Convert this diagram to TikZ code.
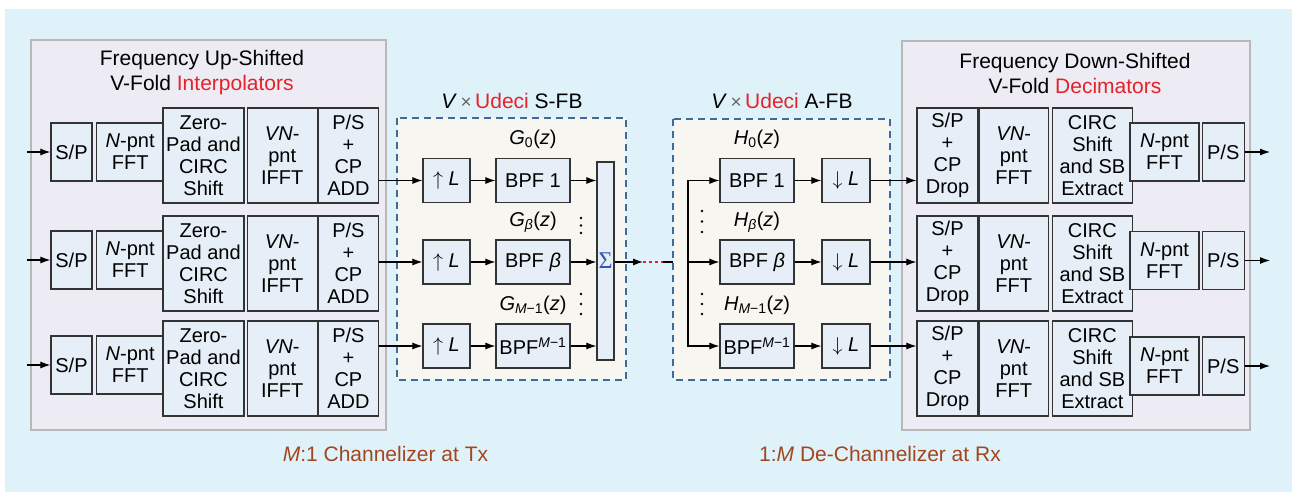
\RequirePackage{fix-cm}
\documentclass[tikz,border=0pt]{standalone}
\usepackage{fontspec}
\setmainfont{Liberation Sans}
\newfontfamily\sumfont{Liberation Serif}
\usetikzlibrary{positioning, arrows.meta, calc}
\usepackage{xcolor}
\definecolor{bgblue}{HTML}{DFF2FA}
\definecolor{panelgray}{HTML}{EDEBF4}
\definecolor{boxblue}{HTML}{E6EEF7}
\definecolor{fbfill}{HTML}{F7F6F1}
\definecolor{fbblue}{HTML}{3E6C98}
\definecolor{hired}{HTML}{E5222A}
\definecolor{capbrown}{HTML}{A2461E}
\definecolor{sigblue}{HTML}{3657B8}
\newcommand{\timessign}{{\color{black!60}\fontsize{19}{19}\selectfont×}}

\begin{document}
\begin{tikzpicture}[
    x=1pt, y=-1pt,
    >={Latex[length=10pt,width=7pt]},
    line width=1.1pt,
    blk/.style={draw=black!80, fill=boxblue, line width=1.2pt, align=center,
                inner sep=0pt, font=\fontsize{20}{22}\selectfont},
    smallblk/.style={blk, minimum height=58pt},
    tallblk/.style={blk, minimum height=95pt},
    fbblk/.style={blk, minimum height=44pt},
    panel/.style={draw=black!28, fill=panelgray, line width=1.6pt},
    fbank/.style={draw=fbblue, fill=fbfill, line width=1.6pt, dash pattern=on 7pt off 5pt},
    heading/.style={align=center, inner sep=0pt, font=\fontsize{21}{25}\selectfont},
    tfn/.style={inner sep=0pt, font=\fontsize{20}{22}\selectfont},
    capt/.style={inner sep=0pt, text=capbrown, font=\fontsize{21}{24}\selectfont}
]
\path[use as bounding box] (0,0) rectangle (1297,492);
\fill[bgblue] (5,9) rectangle (1292,492);

% transmitter side
\draw[panel] (31,40) rectangle (386,430);
\node[heading] (uptitle) at (202,73) {Frequency Up-Shifted\\V-Fold \textcolor{hired}{Interpolators}};

\node[smallblk, minimum width=41pt] (sp1) at (71.5,152) {S/P};
\node[smallblk, minimum width=68pt, right=3pt of sp1] (nfft1) {\textit{N}-pnt\\FFT};
\node[tallblk, minimum width=81pt] (zp1) at (203.5,155.5) {Zero-\\Pad and\\CIRC\\Shift};
\node[tallblk, minimum width=70pt, right=2pt of zp1] (ifft1) {\textit{VN}-\\pnt\\IFFT};
\node[tallblk, minimum width=60pt, right=0pt of ifft1] (cpadd1) {P/S\\+\\CP\\ADD};

\node[smallblk, minimum width=41pt] (sp2) at (71.5,260) {S/P};
\node[smallblk, minimum width=68pt, right=3pt of sp2] (nfft2) {\textit{N}-pnt\\FFT};
\node[tallblk, minimum width=81pt] (zp2) at (203.5,263.5) {Zero-\\Pad and\\CIRC\\Shift};
\node[tallblk, minimum width=70pt, right=2pt of zp2] (ifft2) {\textit{VN}-\\pnt\\IFFT};
\node[tallblk, minimum width=60pt, right=0pt of ifft2] (cpadd2) {P/S\\+\\CP\\ADD};

\node[smallblk, minimum width=41pt] (sp3) at (71.5,365) {S/P};
\node[smallblk, minimum width=68pt, right=3pt of sp3] (nfft3) {\textit{N}-pnt\\FFT};
\node[tallblk, minimum width=81pt] (zp3) at (203.5,368.5) {Zero-\\Pad and\\CIRC\\Shift};
\node[tallblk, minimum width=70pt, right=2pt of zp3] (ifft3) {\textit{VN}-\\pnt\\IFFT};
\node[tallblk, minimum width=60pt, right=0pt of ifft3] (cpadd3) {P/S\\+\\CP\\ADD};

\coordinate (in1) at (27,152);
\coordinate (in2) at (27,260);
\coordinate (in3) at (27,365);
\draw[->] (in1) -- (sp1);
\draw[->] (in2) -- (sp2);
\draw[->] (in3) -- (sp3);

% synthesis filter bank
\draw[fbank] (397,118) rectangle (626,380);
\node[heading] (sfbtitle) at (512,101) {\textit{V}\,\timessign\,\textcolor{hired}{Udeci} S-FB};

\node[fbblk, minimum width=47pt] (up1) at (446.5,180.5) {$\uparrow$\;\textit{L}};
\node[fbblk, minimum width=47pt] (up2) at (446.5,262) {$\uparrow$\;\textit{L}};
\node[fbblk, minimum width=47pt] (up3) at (446.5,346) {$\uparrow$\;\textit{L}};
\node[fbblk, minimum width=74pt] (gbpf1) at (533,180.5) {BPF 1};
\node[fbblk, minimum width=74pt] (gbpf2) at (533,262) {BPF \textit{β}};
\node[fbblk, minimum width=74pt] (gbpf3) at (533,346) {BPF\textsuperscript{\textit{M}−1}};
\node[blk, minimum width=17pt, minimum height=198pt] (sum) at (605.5,261) {\sumfont\fontsize{24}{24}\selectfont\color{sigblue}Σ};

\node[tfn] (g0) at (533,139) {\textit{G}\textsubscript{0}(\textit{z})};
\node[tfn] (gb) at (533,222) {\textit{G}\textsubscript{\textit{β}}(\textit{z})};
\node[tfn] (gm) at (533,305) {\textit{G}\textsubscript{\textit{M}−1}(\textit{z})};
\fill (581,218) circle (1.3) (581,225.5) circle (1.3) (581,233) circle (1.3);
\fill (581,294) circle (1.3) (581,304) circle (1.3) (581,314) circle (1.3);

\draw[->] (cpadd1.east |- up1) -- (up1);
\draw[->] (cpadd2.east |- up2) -- (up2);
\draw[->] (cpadd3.east |- up3) -- (up3);
\draw[->] (up1) -- (gbpf1);
\draw[->] (up2) -- (gbpf2);
\draw[->] (up3) -- (gbpf3);
\draw[->] (gbpf1) -- (gbpf1 -| sum.west);
\draw[->] (gbpf2) -- (gbpf2 -| sum.west);
\draw[->] (gbpf3) -- (gbpf3 -| sum.west);

% link between the banks
\coordinate (linkl) at (643,262);
\coordinate (linkr) at (663,262);
\coordinate (busin) at (688,262);
\draw[->] (sum.east |- linkl) -- (linkl);
\draw[hired, line width=1.4pt, dash pattern=on 3pt off 3pt] (linkl) -- (linkr);
\draw[->] (linkr) -- (busin);

% analysis filter bank
\draw[fbank] (673,119) rectangle (890,380);
\node[heading] (afbtitle) at (782,101) {\textit{V}\,\timessign\,\textcolor{hired}{Udeci} A-FB};

\node[fbblk, minimum width=74pt] (hbpf1) at (757,180.5) {BPF 1};
\node[fbblk, minimum width=74pt] (hbpf2) at (757,262) {BPF \textit{β}};
\node[fbblk, minimum width=74pt] (hbpf3) at (757,346) {BPF\textsuperscript{\textit{M}−1}};
\node[fbblk, minimum width=48pt] (down1) at (846,180.5) {$\downarrow$\;\textit{L}};
\node[fbblk, minimum width=48pt] (down2) at (846,262) {$\downarrow$\;\textit{L}};
\node[fbblk, minimum width=48pt] (down3) at (846,346) {$\downarrow$\;\textit{L}};

\node[tfn] (h0) at (757,139.5) {\textit{H}\textsubscript{0}(\textit{z})};
\node[tfn] (hb) at (757,222) {\textit{H}\textsubscript{\textit{β}}(\textit{z})};
\node[tfn] (hm) at (757,305) {\textit{H}\textsubscript{\textit{M}−1}(\textit{z})};
\fill (702,211) circle (1.3) (702,221.5) circle (1.3) (702,232) circle (1.3);
\fill (702,294) circle (1.3) (702,304) circle (1.3) (702,314) circle (1.3);

\draw[->] (busin) |- (hbpf1);
\draw[->] (busin) -- (hbpf2);
\draw[->] (busin) |- (hbpf3);
\draw[->] (hbpf1) -- (down1);
\draw[->] (hbpf2) -- (down2);
\draw[->] (hbpf3) -- (down3);

% receiver side
\draw[panel] (902,41) rectangle (1250,430);
\node[heading] (downtitle) at (1075,73) {Frequency Down-Shifted\\V-Fold \textcolor{hired}{Decimators}};

\node[tallblk, minimum width=61pt] (drop1) at (947.5,155.5) {S/P\\+\\CP\\Drop};
\node[tallblk, minimum width=69pt, right=0pt of drop1] (vfft1) {\textit{VN}-\\pnt\\FFT};
\node[tallblk, minimum width=80pt, right=3pt of vfft1] (circ1) {CIRC\\Shift\\and SB\\Extract};
\node[smallblk, minimum width=69pt] (rfft1) at (1164.5,152) {\textit{N}-pnt\\FFT};
\node[smallblk, minimum width=42pt, right=2pt of rfft1] (ps1) {P/S};

\node[tallblk, minimum width=61pt] (drop2) at (947.5,263.5) {S/P\\+\\CP\\Drop};
\node[tallblk, minimum width=69pt, right=0pt of drop2] (vfft2) {\textit{VN}-\\pnt\\FFT};
\node[tallblk, minimum width=80pt, right=3pt of vfft2] (circ2) {CIRC\\Shift\\and SB\\Extract};
\node[smallblk, minimum width=69pt] (rfft2) at (1164.5,260.5) {\textit{N}-pnt\\FFT};
\node[smallblk, minimum width=42pt, right=2pt of rfft2] (ps2) {P/S};

\node[tallblk, minimum width=61pt] (drop3) at (947.5,368.5) {S/P\\+\\CP\\Drop};
\node[tallblk, minimum width=69pt, right=0pt of drop3] (vfft3) {\textit{VN}-\\pnt\\FFT};
\node[tallblk, minimum width=80pt, right=3pt of vfft3] (circ3) {CIRC\\Shift\\and SB\\Extract};
\node[smallblk, minimum width=69pt] (rfft3) at (1164.5,366) {\textit{N}-pnt\\FFT};
\node[smallblk, minimum width=42pt, right=2pt of rfft3] (ps3) {P/S};

\draw[->] (down1) -- (down1 -| drop1.west);
\draw[->] (down2) -- (down2 -| drop2.west);
\draw[->] (down3) -- (down3 -| drop3.west);

\coordinate (out1) at (1270,152);
\coordinate (out2) at (1270,260.5);
\coordinate (out3) at (1270,366);
\draw[->] (ps1) -- (out1);
\draw[->] (ps2) -- (out2);
\draw[->] (ps3) -- (out3);

\node[capt] (txcap) at (385.5,454) {\textit{M}:1 Channelizer at Tx};
\node[capt] (rxcap) at (880,454) {1:\textit{M} De-Channelizer at Rx};
\end{tikzpicture}
\end{document}
